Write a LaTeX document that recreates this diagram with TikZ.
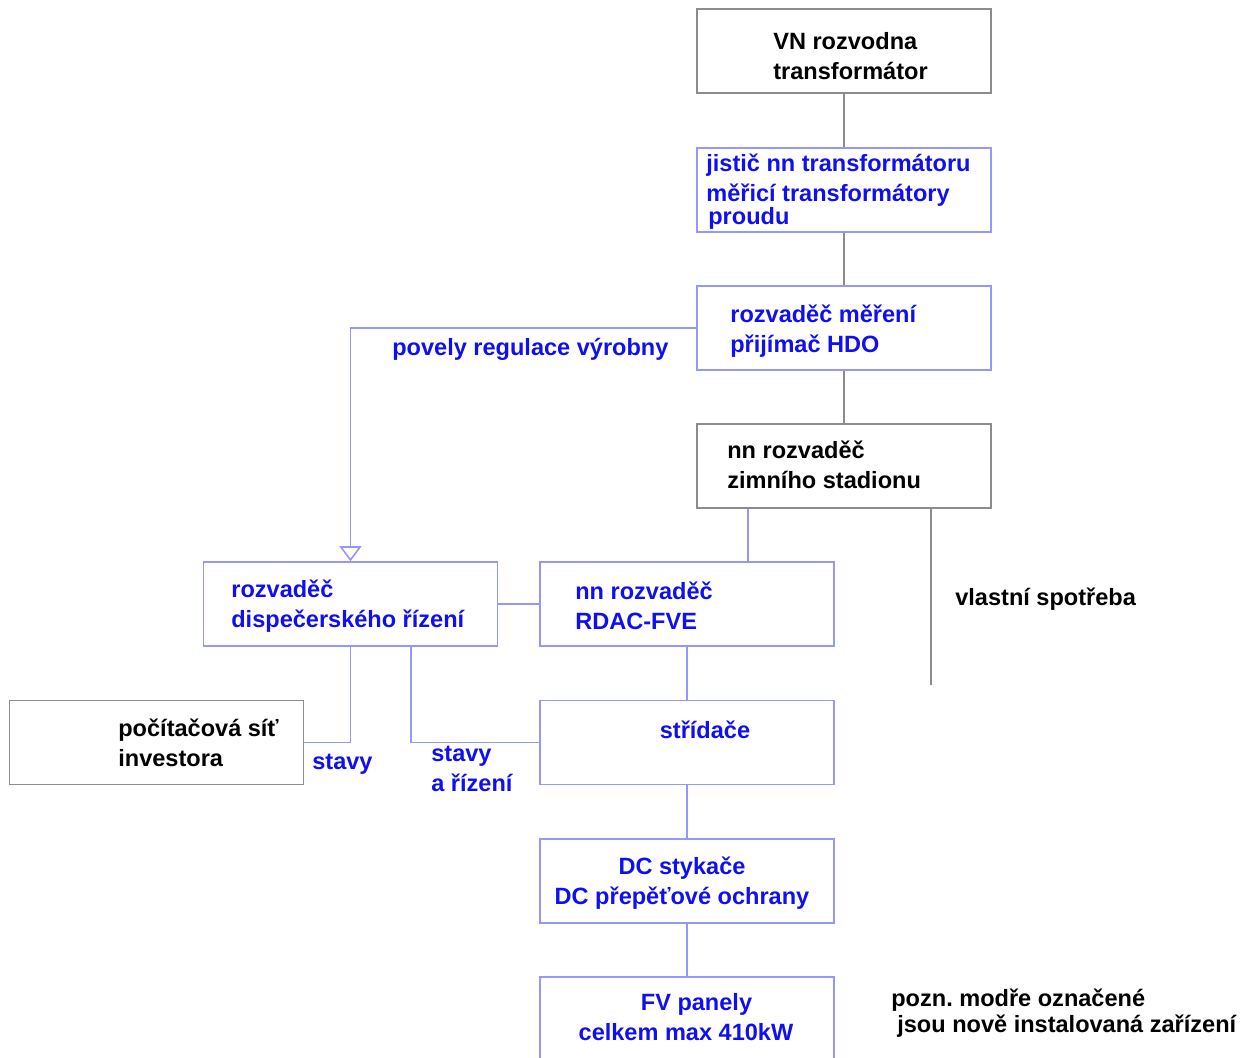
\documentclass[tikz,border=0pt]{standalone}
\usepackage{fontspec}
\setmainfont{Liberation Sans}
\usetikzlibrary{arrows.meta}
\definecolor{linegray}{RGB}{140,140,140}
\definecolor{lineblue}{RGB}{150,150,255}
\definecolor{textblue}{RGB}{15,15,240}
\frenchspacing
\begin{document}
\begin{tikzpicture}[x=0.02cm,y=-0.02cm,
        font=\fontsize{13.4}{17}\selectfont\bfseries,
        gbox/.style={draw=linegray,line width=0.9pt,minimum width=5.88cm,minimum height=1.68cm,inner sep=0pt},
        bbox/.style={draw=lineblue,line width=0.9pt,minimum width=5.88cm,minimum height=1.68cm,inner sep=0pt},
        gtxt/.style={align=left,inner sep=0pt,text=black},
        btxt/.style={align=left,inner sep=0pt,text=textblue},
        gline/.style={draw=linegray,line width=0.7pt},
        bline/.style={draw=lineblue,line width=0.9pt}]
            \useasboundingbox (0,0) rectangle (1248,1058);

            \node[gbox] (vn) at (844,51) {};
            \node[bbox] (jistic) at (844,190) {};
            \node[bbox] (mereni) at (844,328) {};
            \node[gbox] (zimni) at (844,466) {};
            \node[bbox] (disp) at (350.5,604) {};
            \node[bbox] (rdac) at (687,604) {};
            \node[gbox] (pc) at (156.5,742.5) {};
            \node[bbox] (strid) at (687,742.5) {};
            \node[bbox] (dc) at (687,881) {};
            \node[bbox] (fv) at (687,1019) {};

            \node[gtxt,anchor=west] (vn-t) at (773,56.5) {VN rozvodna\\transformátor};
            \node[btxt,anchor=west] (jistic-t) at (706,191.5) {jistič nn transformátoru\\měřicí transformátory\\[-4pt]\hspace*{0.04cm}proudu};
            \node[btxt,anchor=west] (mereni-t) at (730,331) {rozvaděč měření\\přijímač HDO};
            \node[gtxt,anchor=west] (zimni-t) at (727,465) {nn rozvaděč\\zimního stadionu};
            \node[btxt,anchor=west] (disp-t) at (231,606) {rozvaděč\\dispečerského řízení};
            \node[btxt,anchor=west] (rdac-t) at (575,606) {nn rozvaděč\\RDAC-FVE};
            \node[gtxt,anchor=west] (pc-t) at (118,742.5) {počítačová síť\\investora};
            \node[btxt] (strid-t) at (705,729.5) {střídače};
            \node[btxt,align=center] (dc-t) at (682,883) {DC stykače\\DC přepěťové ochrany};
            \node[btxt,align=center] (fv-t) at (686,1017.5) {\hspace*{0.42cm}FV panely\\celkem max 410kW};

            \draw[gline] (vn) -- (jistic);
            \draw[gline] (jistic) -- (mereni);
            \draw[gline] (mereni) -- (zimni);
            \draw[bline] (zimni.south -| 748,0) -- (rdac.north -| 748,0);

            \coordinate (vs) at (931,685);
            \draw[gline] (zimni.south -| vs) -- (vs);
            \node[gtxt,anchor=west] (vs-t) at (955,599.5) {vlastní spotřeba};

            \draw[bline,-{Triangle[open,width=0.44cm,length=0.3cm]}] (mereni.west) -| (disp.north);
            \node[btxt,anchor=west] (povely) at (392,349.5) {povely regulace výrobny};

            \draw[bline] (disp.east) -- (rdac.west);
            \draw[bline] (disp.south) |- (pc.east);
            \node[btxt,anchor=west] (stavy) at (312,764.5) {stavy};
            \draw[bline] (disp.south -| 411,0) |- (strid.west);
            \node[btxt,anchor=west] (stavy-r) at (431,769) {stavy\\a řízení};

            \draw[bline] (rdac) -- (strid);
            \draw[bline] (strid) -- (dc);
            \draw[bline] (dc) -- (fv);

            \node[gtxt,anchor=west] (pozn) at (891,1013) {pozn. modře označené\\[-2pt]\hspace*{0.12cm}jsou nově instalovaná zařízení};
        \end{tikzpicture}
\end{document}
